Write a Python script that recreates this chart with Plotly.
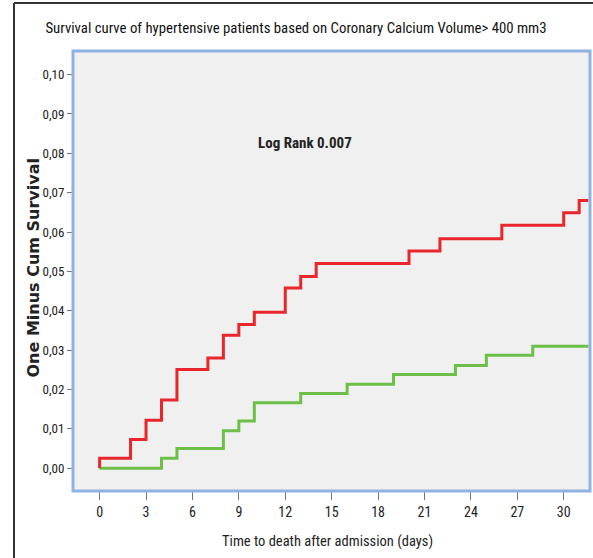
import plotly.graph_objects as go

# Data
red_days = [0, 0, 2, 3, 4, 5, 7, 8, 9, 10, 12, 13, 14, 20, 22, 26, 30, 31, 31.6]
red_values = [0.0, 0.0025, 0.0073, 0.0122, 0.0173, 0.0251, 0.0280, 0.0338, 0.0365,
              0.0396, 0.0458, 0.0487, 0.0520, 0.0552, 0.0583, 0.0617, 0.0649, 0.0680, 0.0680]
green_days = [0, 4, 5, 8, 9, 10, 13, 16, 19, 23, 25, 28, 31.6]
green_values = [0.0, 0.0025, 0.0050, 0.0095, 0.0120, 0.0166, 0.0190, 0.0213,
                0.0238, 0.0261, 0.0287, 0.0310, 0.0310]

x_ticks = [0, 3, 6, 9, 12, 15, 18, 21, 24, 27, 30]
y_ticks = [0.00, 0.01, 0.02, 0.03, 0.04, 0.05, 0.06, 0.07, 0.08, 0.09, 0.10]

title_text = "Survival curve of hypertensive patients based on Coronary Calcium Volume> 400 mm3"
x_title = "Time to death after admission (days)"
y_title = "One Minus Cum Survival"
annot_text = "Log Rank 0.007"

narrow = "Liberation Sans Narrow, Arial Narrow, Roboto Condensed, sans-serif"

fig = go.Figure()
fig.add_trace(go.Scatter(x=green_days, y=green_values, mode="lines", line_shape="hv",
                         line=dict(color="#6cbf47", width=3), showlegend=False,
                         hoverinfo="skip"))
fig.add_trace(go.Scatter(x=red_days, y=red_values, mode="lines", line_shape="hv",
                         line=dict(color="#e8262b", width=3), showlegend=False,
                         hoverinfo="skip"))

L, R, T, B = 73, 3, 51, 67
W, H = 593, 558
pw, ph = W - L - R, H - T - B

def px_x(px):
    return (px - L) / pw

def px_y(py):
    return (H - B - py) / ph

fig.update_layout(
    width=W, height=H,
    margin=dict(l=L, r=R, t=T, b=B),
    paper_bgcolor="white",
    plot_bgcolor="#f0f0f0",
    separators=", ",
    showlegend=False,
    xaxis=dict(range=[-1.72, 31.7], tickvals=x_ticks, ticks="outside", ticklen=8,
               tickcolor="#777", tickwidth=1, showgrid=False, zeroline=False,
               showline=False, tickfont=dict(family=narrow, size=14, color="#222")),
    yaxis=dict(range=[-0.0058, 0.106], tickvals=y_ticks, tickformat=".2f",
               ticks="outside", ticklen=5, tickcolor="#777", tickwidth=1,
               showgrid=False, zeroline=False, showline=False,
               tickfont=dict(family=narrow, size=13, color="#222")),
    title=dict(text=title_text, x=296 / W, xref="container", xanchor="center",
               y=1 - 28 / H, yanchor="middle",
               font=dict(family=narrow, size=14.8, color="#111")),
    annotations=[
        dict(x=13.28, y=0.0826, xref="x", yref="y", text=annot_text,
             showarrow=False, font=dict(family=narrow, size=15, color="#222",
                                        weight="bold")),
        dict(x=px_x(32.5), y=px_y(268), xref="paper", yref="paper", text=y_title,
             textangle=-90, showarrow=False, xanchor="center", yanchor="middle",
             font=dict(family="DejaVu Sans", size=16, color="#222", weight="bold")),
        dict(x=px_x(327), y=px_y(541), xref="paper", yref="paper", text=x_title,
             showarrow=False, xanchor="center", yanchor="middle",
             font=dict(family=narrow, size=14.5, color="#222")),
    ],
    shapes=[
        # plot area blue frame
        dict(type="rect", xref="paper", yref="paper", x0=0, y0=0, x1=1, y1=1,
             line=dict(color="#8fb2e2", width=3), layer="above"),
        # outer dark frame (left and top)
        dict(type="line", xref="paper", yref="paper", x0=px_x(14), x1=px_x(14),
             y0=px_y(3), y1=px_y(560), line=dict(color="#333", width=2)),
        dict(type="line", xref="paper", yref="paper", x0=px_x(14), x1=px_x(600),
             y0=px_y(3), y1=px_y(3), line=dict(color="#333", width=2)),
    ],
)

fig.write_html("out.html", config={"displayModeBar": False},
               post_script="document.body.style.margin='0';document.body.style.overflow='hidden';")
